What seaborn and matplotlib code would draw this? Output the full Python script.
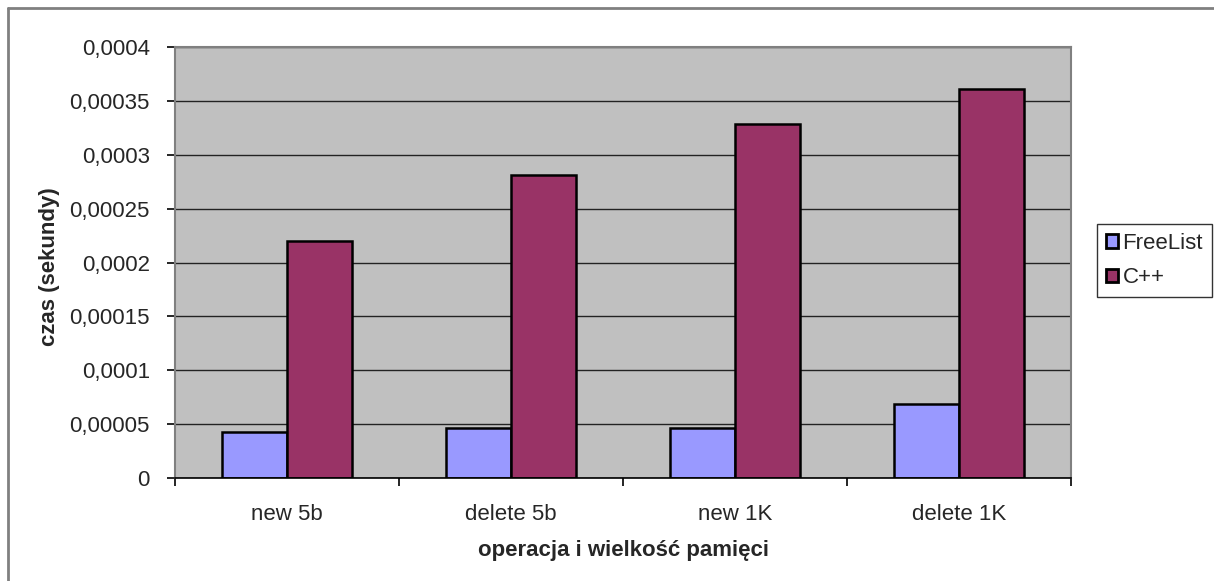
import matplotlib
matplotlib.use("Agg")
import matplotlib.pyplot as plt
import matplotlib.ticker as mticker
from matplotlib.lines import Line2D
import seaborn as sns
import pandas as pd

categories = ["new 5b", "delete 5b", "new 1K", "delete 1K"]
series_names = ["FreeList", "C++"]
freelist_values = [0.0000424, 0.0000461, 0.0000461, 0.0000687]
cpp_values = [0.000220, 0.000281, 0.000329, 0.000361]
y_ticks = [0, 0.00005, 0.0001, 0.00015, 0.0002, 0.00025, 0.0003, 0.00035, 0.0004]
colors = {"FreeList": "#9999FF", "C++": "#993366"}

df = pd.DataFrame({
    "operacja": categories * 2,
    "seria": [series_names[0]] * 4 + [series_names[1]] * 4,
    "czas": freelist_values + cpp_values,
})

sns.set_style("white")
plt.rcParams["font.family"] = ["Liberation Sans", "DejaVu Sans"]

fig = plt.figure(figsize=(12.14, 5.81), dpi=100)
ax = fig.add_axes([175 / 1214, 1 - 478 / 581, (1071 - 175) / 1214, (478 - 47) / 581])
ax.set_facecolor("#C0C0C0")

sns.barplot(data=df, x="operacja", y="czas", hue="seria", order=categories,
            hue_order=series_names, palette=colors, width=0.576, gap=0,
            edgecolor="black", linewidth=1.8, saturation=1, ax=ax, zorder=3)

ax.set_xlim(-0.5, 3.5)
ax.set_ylim(0, 0.0004)
ax.set_yticks(y_ticks)
ax.yaxis.set_major_formatter(mticker.FuncFormatter(
    lambda v, p: "0" if v == 0 else ("%.5f" % v).rstrip("0").replace(".", ",")))
ax.yaxis.grid(True, color="#222222", linewidth=1.0, zorder=1)
ax.set_axisbelow(True)

for side in ["left", "top", "right"]:
    ax.spines[side].set_color("#808080")
    ax.spines[side].set_linewidth(1.5)
ax.spines["bottom"].set_color("black")
ax.spines["bottom"].set_linewidth(1.2)
ax.spines["bottom"].set_zorder(4)

ax.tick_params(axis="y", which="major", direction="out", length=6, width=1.2,
               color="black", left=True, pad=12, labelsize=16)
ax.tick_params(axis="x", which="major", length=0, pad=19, labelsize=16)
ax.xaxis.set_minor_locator(mticker.FixedLocator([-0.5, 0.5, 1.5, 2.5, 3.5]))
ax.tick_params(axis="x", which="minor", direction="out", length=6, width=1.2,
               color="black", bottom=True)

ax.set_xlabel("operacja i wielkość pamięci", fontsize=16, fontweight="bold")
ax.set_ylabel("czas (sekundy)", fontsize=16, fontweight="bold")
ax.xaxis.set_label_coords(0.5, -0.145)
ax.yaxis.set_label_coords(-0.128, 0.49)

handles, labels = ax.get_legend_handles_labels()
ax.legend(handles, labels, loc="upper left",
          bbox_to_anchor=(1097 / 1214, 1 - 224 / 581), bbox_transform=fig.transFigure,
          frameon=True, fancybox=False, edgecolor="black", fontsize=16,
          handlelength=0.55, handleheight=0.55, handletextpad=0.2,
          borderpad=0.4, labelspacing=0.6, borderaxespad=0)
leg = ax.get_legend()
leg.get_frame().set_linewidth(1.0)
for h in leg.legend_handles:
    h.set_edgecolor("black")
    h.set_linewidth(2)

# outer chart frame
fig.add_artist(Line2D([8 / 1214, 8 / 1214], [0, 1 - 8 / 581], transform=fig.transFigure,
                      color="#808080", linewidth=2))
fig.add_artist(Line2D([8 / 1214, 1], [1 - 8 / 581, 1 - 8 / 581], transform=fig.transFigure,
                      color="#808080", linewidth=2))

fig.savefig("out.png", dpi=100)
